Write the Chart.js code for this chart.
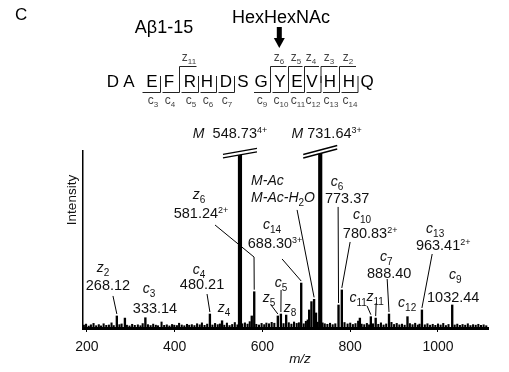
<!DOCTYPE html>
<html>
<head>
<meta charset="utf-8">
<script src="https://cdn.jsdelivr.net/npm/chart.js@4.4.1/dist/chart.umd.min.js"></script>
<style>
  html, body { margin: 0; padding: 0; background: #fff; }
  canvas { display: block; }
</style>
</head>
<body>
<canvas id="spectrum" width="509" height="372"></canvas>
<script>
// Abeta 1-15 ETD spectrum, glycan on Y10
const FONT = '"Liberation Sans", Arial, sans-serif';

// precursor ions (clipped at the top of the plot)
const parentMz = [548.73, 731.64];
const parentIntensity = [99.2, 100];

// fragment and other resolved peaks
const peakMz = [268.12, 286.5, 333.14, 480.21, 507.9, 575.6, 581.24, 635.0, 642.0, 654.0,
                688.30, 706.5, 711.64, 717.64, 722.0, 773.37, 780.83, 822.0, 847.0, 858.0,
                888.40, 930.5, 963.41, 1032.44];
const peakIntensity = [6.8, 5.6, 5.8, 7.9, 4.1, 6.8, 20.5, 6.8, 7.9, 7.3,
                       25.4, 10.2, 14.9, 16.2, 8.5, 13.0, 21.5, 5.6, 6.4, 5.6,
                       7.9, 6.4, 10.2, 13.0];

// baseline chemical noise
const noiseMz = [193, 198, 204, 209, 215, 221, 227, 232, 238, 244,
                 250, 256, 261, 274, 279, 291, 297, 303, 309, 316,
                 322, 327, 339, 345, 351, 357, 362, 370, 376, 382,
                 388, 394, 399, 405, 410, 416, 422, 428, 433, 439,
                 445, 451, 457, 462, 468, 474, 486, 492, 498, 503,
                 513, 519, 525, 531, 537, 543, 554, 560, 566, 571,
                 586, 592, 598, 604, 609, 615, 621, 627, 648, 660,
                 666, 672, 678, 683, 694, 699, 703, 726, 737, 742,
                 748, 754, 760, 766, 787, 794, 800, 806, 812, 818,
                 826, 832, 838, 843, 852, 864, 870, 876, 882, 894,
                 900, 906, 912, 918, 924, 936, 942, 948, 954, 958,
                 970, 976, 982, 988, 994, 1000, 1006, 1012, 1018, 1024,
                 1038, 1044, 1050, 1056, 1062, 1068, 1074, 1080, 1086, 1092,
                 1098, 1104, 1110];
const noiseIntensity = [1.6, 2.2, 1.1, 1.8, 2.6, 1.3, 1.9, 1.2, 2.4, 1.5,
                        1.7, 2.9, 1.4, 1.9, 2.3, 1.6, 1.2, 2.1, 1.5, 1.8,
                        1.3, 2.5, 1.9, 1.4, 2.2, 1.6, 1.3, 3.4, 1.5, 1.8,
                        1.2, 2.0, 1.6, 1.4, 2.7, 1.7, 1.3, 2.1, 1.6, 1.9,
                        1.4, 2.4, 1.8, 2.9, 1.5, 2.2, 1.7, 2.6, 1.9, 2.3,
                        1.6, 2.8, 1.4, 2.0, 3.1, 1.8, 2.4, 2.9, 2.2, 3.6,
                        2.1, 1.7, 2.6, 1.9, 2.8, 2.4, 3.2, 2.7, 2.5, 3.0,
                        2.2, 3.4, 2.6, 3.0, 2.4, 3.8, 4.6, 3.3, 2.9, 2.4,
                        2.1, 2.7, 1.9, 2.4, 3.1, 2.3, 2.8, 2.0, 2.5, 3.9,
                        2.2, 1.9, 2.6, 1.8, 2.4, 2.1, 2.9, 1.7, 2.3, 3.2,
                        2.0, 2.6, 1.8, 2.2, 1.6, 2.5, 1.9, 2.7, 1.7, 2.2,
                        1.8, 2.4, 1.6, 2.1, 1.5, 2.3, 1.7, 2.6, 1.4, 2.0,
                        1.7, 2.2, 1.5, 2.0, 1.6, 2.4, 1.4, 1.9, 1.6, 2.1,
                        1.5, 1.8, 1.3];

const xTicks = [200, 400, 600, 800, 1000];

// peptide sequence and observed fragments
const residues = ['D', 'A', 'E', 'F', 'R', 'H', 'D', 'S', 'G', 'Y', 'E', 'V', 'H', 'H', 'Q'];
const cIons = [3, 4, 5, 6, 7, 9, 10, 11, 12, 13, 14];
const zIons = [11, 6, 5, 4, 3, 2];
const glycoSite = 10;

// peak annotations, anchored in (m/z, intensity)
const peakLabels = [
  { text: '*M*  548.73^{4+}', mz: 526.1, inten: 107.4 },
  { text: '*M* 731.64^{3+}', mz: 746.2, inten: 107.4 },
  { text: '*M-Ac*', mz: 574.0, inten: 80.8, align: 'left' },
  { text: '*M-Ac-H*_{2}*O*', mz: 574.0, inten: 71.2, align: 'left' },
  { text: '*z*_{6}', mz: 455.4, inten: 72.8 },
  { text: '581.24^{2+}', mz: 460.0, inten: 62.2 },
  { text: '*c*_{14}', mz: 621.9, inten: 55.9 },
  { text: '688.30^{3+}', mz: 628.7, inten: 45.2 },
  { text: '*c*_{6}', mz: 770.2, inten: 80.2 },
  { text: '773.37', mz: 793.0, inten: 70.7 },
  { text: '*c*_{10}', mz: 827.1, inten: 61.5 },
  { text: '780.83^{2+}', mz: 845.4, inten: 50.9 },
  { text: '*c*_{13}', mz: 993.6, inten: 53.6 },
  { text: '963.41^{2+}', mz: 1011.9, inten: 44.1 },
  { text: '*c*_{9}', mz: 1039.2, inten: 27.6 },
  { text: '1032.44', mz: 1034.7, inten: 14.7 },
  { text: '*c*_{7}', mz: 881.9, inten: 37.8 },
  { text: '888.40', mz: 888.8, inten: 28.3 },
  { text: '*z*_{11}', mz: 856.8, inten: 15.2 },
  { text: '*c*_{11}', mz: 818.0, inten: 14.7 },
  { text: '*c*_{12}', mz: 929.8, inten: 11.8 },
  { text: '*z*_{8}', mz: 662.9, inten: 9.0 },
  { text: '*z*_{5}', mz: 615.1, inten: 14.7 },
  { text: '*c*_{5}', mz: 642.4, inten: 23.1 },
  { text: '*z*_{4}', mz: 512.4, inten: 9.0 },
  { text: '*c*_{4}', mz: 455.4, inten: 30.5 },
  { text: '480.21', mz: 462.3, inten: 22.1 },
  { text: '*c*_{3}', mz: 341.4, inten: 19.7 },
  { text: '333.14', mz: 355.1, inten: 8.5 },
  { text: '*z*_{2}', mz: 236.5, inten: 31.6 },
  { text: '268.12', mz: 247.9, inten: 21.5 }
];

// leader lines from a label to the top of its peak
const leaders = [
  { from: [259.3, 18.1], to: 268.12 },
  { from: [473.7, 19.2], to: 480.21 },
  { from: [491.9, 58.2], via: [580.8, 40.1], to: 581.24 },
  { from: [644.7, 39.0], to: 688.30 },
  { from: [678.9, 66.7], to: 717.64 },
  { from: [772.4, 68.4], to: 773.37 },
  { from: [799.8, 48.6], to: 780.83 },
  { from: [986.8, 41.8], to: 963.41 },
  { from: [884.2, 27.7], to: 888.40 },
  { from: [859.1, 14.1], to: 858.0 },
  { from: [838.5, 12.4], to: 847.0 },
  { from: [619.6, 13.0], to: 635.0 },
  { from: [642.4, 21.5], to: 642.0 }
];

// small markup: *italic*, _{sub}, ^{sup}
function parseRich(str) {
  const parts = [];
  const re = /\*([^*]+)\*|_\{([^}]+)\}|\^\{([^}]+)\}|([^*_^]+)/g;
  let m;
  while ((m = re.exec(str))) {
    if (m[1]) parts.push({ t: m[1], k: 'i' });
    else if (m[2]) parts.push({ t: m[2], k: 'sub' });
    else if (m[3]) parts.push({ t: m[3], k: 'sup' });
    else parts.push({ t: m[4], k: 'n' });
  }
  return parts;
}

function drawRich(ctx, str, x, y, align, size, italicSize) {
  const parts = parseRich(str);
  const fontOf = k => {
    if (k === 'i') return 'italic ' + italicSize + 'px ' + FONT;
    if (k === 'sub') return Math.round(size * 0.68) + 'px ' + FONT;
    if (k === 'sup') return Math.round(size * 0.6) + 'px ' + FONT;
    return size + 'px ' + FONT;
  };
  let total = 0;
  parts.forEach(p => { ctx.font = fontOf(p.k); p.w = ctx.measureText(p.t).width; total += p.w; });
  let cx = align === 'left' ? x : x - total / 2;
  ctx.textAlign = 'left';
  ctx.textBaseline = 'alphabetic';
  parts.forEach(p => {
    ctx.font = fontOf(p.k);
    let dy = 0;
    if (p.k === 'sub') dy = size * 0.28;
    if (p.k === 'sup') dy = -size * 0.36;
    ctx.fillText(p.t, cx, y + dy);
    cx += p.w;
  });
}

const annotations = {
  id: 'annotations',
  afterDatasetsDraw(chart) {
    const { ctx, scales: { x, y } } = chart;
    ctx.save();

    // broken-axis marks across the clipped precursor peaks
    const breakRise = [6, 9];
    parentMz.forEach((mz, i) => {
      const px = x.getPixelForValue(mz);
      const py = y.getPixelForValue(parentIntensity[i]) - 1;
      const half = 17, gap = 3.5, r = breakRise[i] / 2;
      ctx.fillStyle = '#fff';
      ctx.beginPath();
      ctx.moveTo(px - half, py + r);
      ctx.lineTo(px + half, py - r);
      ctx.lineTo(px + half, py - r + gap);
      ctx.lineTo(px - half, py + r + gap);
      ctx.closePath();
      ctx.fill();
      ctx.strokeStyle = '#000';
      ctx.lineWidth = 1.3;
      ctx.beginPath();
      ctx.moveTo(px - half, py + r); ctx.lineTo(px + half, py - r);
      ctx.moveTo(px - half, py + r + gap); ctx.lineTo(px + half, py - r + gap);
      ctx.stroke();
    });

    // leader lines
    ctx.strokeStyle = '#000';
    ctx.lineWidth = 1;
    leaders.forEach(l => {
      const k = peakMz.indexOf(l.to);
      const tx = x.getPixelForValue(peakMz[k]);
      const ty = y.getPixelForValue(peakIntensity[k]) - 2;
      ctx.beginPath();
      ctx.moveTo(x.getPixelForValue(l.from[0]), y.getPixelForValue(l.from[1]));
      if (l.via) ctx.lineTo(x.getPixelForValue(l.via[0]), y.getPixelForValue(l.via[1]));
      ctx.lineTo(tx, ty);
      ctx.stroke();
    });

    // peak labels
    ctx.fillStyle = '#111';
    peakLabels.forEach(lb => {
      drawRich(ctx, lb.text, x.getPixelForValue(lb.mz), y.getPixelForValue(lb.inten),
               lb.align || 'center', 14.5, 14);
    });

    // axis titles
    ctx.fillStyle = '#111';
    ctx.font = '13.5px ' + FONT;
    ctx.save();
    ctx.translate(76, 200);
    ctx.rotate(-Math.PI / 2);
    ctx.textAlign = 'center';
    ctx.textBaseline = 'alphabetic';
    ctx.fillText('Intensity', 0, 0);
    ctx.restore();
    ctx.font = 'italic 13.5px ' + FONT;
    ctx.textAlign = 'center';
    ctx.fillText('m/z', 300, 363);

    ctx.restore();
  }
};

const sequenceHeader = {
  id: 'sequenceHeader',
  afterDraw(chart) {
    const ctx = chart.ctx;
    ctx.save();
    ctx.fillStyle = '#000';
    ctx.textBaseline = 'alphabetic';

    ctx.font = '17px ' + FONT;
    ctx.textAlign = 'left';
    ctx.fillText('C', 15, 20);

    ctx.font = '18px ' + FONT;
    ctx.textAlign = 'center';
    ctx.fillText('A\u03B21-15', 164, 33);
    ctx.fillText('HexHexNAc', 281, 23);

    // residue letters
    const centers = [113, 129, 152, 169, 190, 207, 226, 243, 261, 280, 297, 312, 330, 349, 367];
    ctx.font = '17px ' + FONT;
    residues.forEach((r, i) => ctx.fillText(r, centers[i], 87));

    // glycosylation arrow
    const ax = centers[glycoSite - 1] - 0.7;
    ctx.fillRect(ax - 2.5, 27, 5, 11);
    ctx.beginPath();
    ctx.moveTo(ax - 5.5, 38);
    ctx.lineTo(ax + 5.5, 38);
    ctx.lineTo(ax, 48);
    ctx.closePath();
    ctx.fill();

    const bound = i => {
      if (i < 0) return centers[0] - 9;
      if (i >= centers.length - 1) return centers[centers.length - 1] + 9;
      return (centers[i] + centers[i + 1]) / 2;
    };

    ctx.strokeStyle = '#222';
    ctx.lineWidth = 1;
    ctx.fillStyle = '#444';
    // c ions: bracket below the N-terminal side
    cIons.forEach(n => {
      const i = n - 1;
      const l = bound(i - 1), r = bound(i);
      ctx.beginPath();
      ctx.moveTo(r, 76);
      ctx.lineTo(r, 92.5);
      ctx.lineTo(l + 2, 92.5);
      ctx.stroke();
      drawRich(ctx, 'c_{' + n + '}', centers[i] + 1, 104, 'center', 12, 12);
    });
    // z ions: bracket above the C-terminal side
    zIons.forEach(n => {
      const i = residues.length - n;
      const l = bound(i - 1), r = bound(i);
      ctx.beginPath();
      ctx.moveTo(l, 83);
      ctx.lineTo(l, 66.5);
      ctx.lineTo(r - 2, 66.5);
      ctx.stroke();
      drawRich(ctx, 'z_{' + n + '}', centers[i] - 1, 61, 'center', 12, 12);
    });
    ctx.restore();
  }
};

const toPoints = (xs, ys) => xs.map((v, i) => ({ x: v, y: ys[i] }));

new Chart(document.getElementById('spectrum'), {
  type: 'bar',
  data: {
    datasets: [
      { data: toPoints(noiseMz, noiseIntensity), backgroundColor: '#000', barThickness: 1.4, grouped: false },
      { data: toPoints(peakMz, peakIntensity), backgroundColor: '#000', barThickness: 1.7, grouped: false },
      { data: toPoints(parentMz, parentIntensity), backgroundColor: '#000', barThickness: 3.5, grouped: false }
    ]
  },
  options: {
    responsive: false,
    animation: false,
    devicePixelRatio: 1,
    layout: { padding: { top: 151, right: 21, left: 0, bottom: 0 } },
    plugins: { legend: { display: false }, tooltip: { enabled: false } },
    scales: {
      x: {
        type: 'linear',
        offset: false,
        min: 191,
        max: 1114,
        grid: { display: true, drawOnChartArea: false, drawTicks: true, tickLength: 4, color: '#000', lineWidth: 1, offset: false },
        border: { display: true, color: '#000', width: 3 },
        ticks: { color: '#111', font: { family: FONT, size: 14 }, padding: 7, maxRotation: 0, callback: v => String(v) },
        afterBuildTicks: s => { s.ticks = xTicks.map(v => ({ value: v })); },
        afterFit: s => { s.height = 44; }
      },
      y: {
        min: 0,
        max: 100,
        grid: { display: false, drawTicks: false },
        border: { display: true, color: '#000', width: 1.5 },
        ticks: { display: false },
        afterFit: s => { s.width = 83; }
      }
    }
  },
  plugins: [annotations, sequenceHeader]
});
</script>
</body>
</html>
